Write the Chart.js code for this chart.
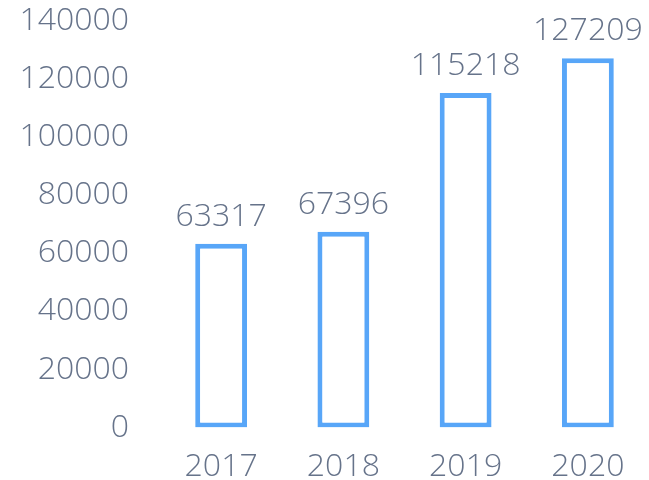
<!DOCTYPE html>
<html>
<head>
<meta charset="utf-8">
<script src="https://cdn.jsdelivr.net/npm/chart.js@4/dist/chart.umd.min.js"></script>
<style>
  html, body { margin: 0; padding: 0; background: #fff; }
  #wrap { width: 649px; height: 480px; }
</style>
</head>
<body>
<div id="wrap"><canvas id="barChart"></canvas></div>
<script>
// data
const years = ['2017', '2018', '2019', '2020'];
const values = [63317, 67396, 115218, 127209];

const textColor = '#66738a';
const barColor = '#58a6f8';
const fontFamily = '"Open Sans", "Noto Sans", sans-serif';
const fontWeight = 300;
const fontSize = 32;

// draws the value above each bar
const valueLabels = {
    id: 'valueLabels',
    afterDatasetsDraw(chart) {
        const ctx = chart.ctx;
        const meta = chart.getDatasetMeta(0);
        ctx.save();
        ctx.font = fontWeight + ' ' + fontSize + 'px ' + fontFamily;
        ctx.fillStyle = textColor;
        ctx.textAlign = 'center';
        ctx.textBaseline = 'alphabetic';
        meta.data.forEach((bar, i) => {
            ctx.fillText(String(values[i]), bar.x, bar.y - 18);
        });
        ctx.restore();
    },
};

new Chart(document.getElementById('barChart'), {
    type: 'bar',
    data: {
        labels: years,
        datasets: [{
            data: values,
            backgroundColor: '#ffffff',
            borderColor: barColor,
            borderWidth: 5,
            borderSkipped: false,
            categoryPercentage: 1,
            barPercentage: 0.424,
        }],
    },
    options: {
        responsive: true,
        maintainAspectRatio: false,
        animation: false,
        layout: { padding: { left: 0, top: 0, right: -1.5, bottom: 0 } },
        plugins: {
            legend: { display: false },
            tooltip: { enabled: false },
        },
        scales: {
            x: {
                grid: { display: false, drawTicks: false },
                border: { display: false },
                ticks: {
                    color: textColor,
                    font: { family: fontFamily, size: fontSize, weight: fontWeight },
                    padding: 20,
                },
                afterFit: (scale) => {
                    scale.height = 52.5; // plot bottom at ~427.5
                },
            },
            y: {
                min: 0,
                max: 140000,
                grid: { display: false, drawTicks: false },
                border: { display: false },
                ticks: {
                    stepSize: 20000,
                    color: textColor,
                    font: { family: fontFamily, size: fontSize, weight: fontWeight },
                    padding: 31,
                    callback: (v) => String(v),
                },
                afterFit: (scale) => {
                    scale.width = 160;
                    scale.paddingTop = 21;
                    scale.paddingBottom = 0;
                },
            },
        },
    },
    plugins: [valueLabels],
});
</script>
</body>
</html>
